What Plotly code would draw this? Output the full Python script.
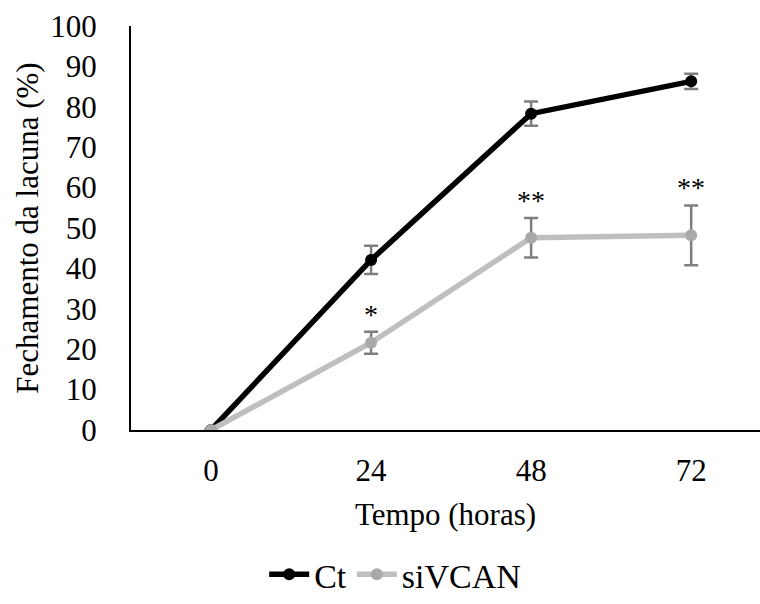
import plotly.graph_objects as go

categories = ["0", "24", "48", "72"]
ct_values = [0, 42.1, 78.3, 86.3]
ct_err = [0, 3.5, 3.0, 1.9]
si_values = [0, 21.6, 47.6, 48.2]
si_err = [0, 2.7, 4.9, 7.4]
stars = ["", "*", "**", "**"]

FONT = "Liberation Serif"
idx = list(range(len(categories)))

fig = go.Figure()
fig.add_trace(go.Scatter(
    x=idx, y=ct_values, name="Ct", mode="lines+markers",
    line=dict(color="black", width=5.5),
    marker=dict(color="black", size=12),
    error_y=dict(type="data", array=ct_err, visible=True, color="#7f7f7f", thickness=2.5, width=7),
))
fig.add_trace(go.Scatter(
    x=idx, y=si_values, name="siVCAN", mode="lines+markers",
    line=dict(color="#bfbfbf", width=5.5),
    marker=dict(color="#a9a9a9", size=12),
    error_y=dict(type="data", array=si_err, visible=True, color="#7f7f7f", thickness=2.5, width=7),
))

for i, s in enumerate(stars):
    if s:
        fig.add_annotation(x=i, y=si_values[i] + si_err[i], text=s, showarrow=False,
                           yanchor="bottom", yshift=0, font=dict(family=FONT, size=28, color="#000000"))

fig.update_layout(
    width=760, height=604,
    margin=dict(l=131, r=0, t=26, b=174, autoexpand=False),
    paper_bgcolor="white", plot_bgcolor="white",
    font=dict(family=FONT, size=31, color="black"),
    xaxis=dict(
        tickmode="array", tickvals=idx, ticktext=categories,
        range=[-0.5, 3.43], showline=True, linecolor="black", linewidth=2,
        showgrid=False, zeroline=False, ticks="", ticklabelstandoff=12,
        tickfont=dict(family=FONT, size=31),
        title=dict(text="Tempo (horas)", font=dict(family=FONT, size=31), standoff=16),
    ),
    yaxis=dict(
        range=[0, 100], dtick=10, showline=True, linecolor="black", linewidth=2,
        showgrid=False, zeroline=False, ticks="", ticklabelstandoff=26,
        tickfont=dict(family=FONT, size=31),
        title=dict(text="Fechamento da lacuna (%)", font=dict(family=FONT, size=31), standoff=2),
    ),
    legend=dict(orientation="h", x=0.42, xanchor="center", y=-0.43, yanchor="bottom",
                font=dict(family=FONT, size=34), itemwidth=40, tracegroupgap=0),
    showlegend=True,
)

fig.write_html("out.html")
